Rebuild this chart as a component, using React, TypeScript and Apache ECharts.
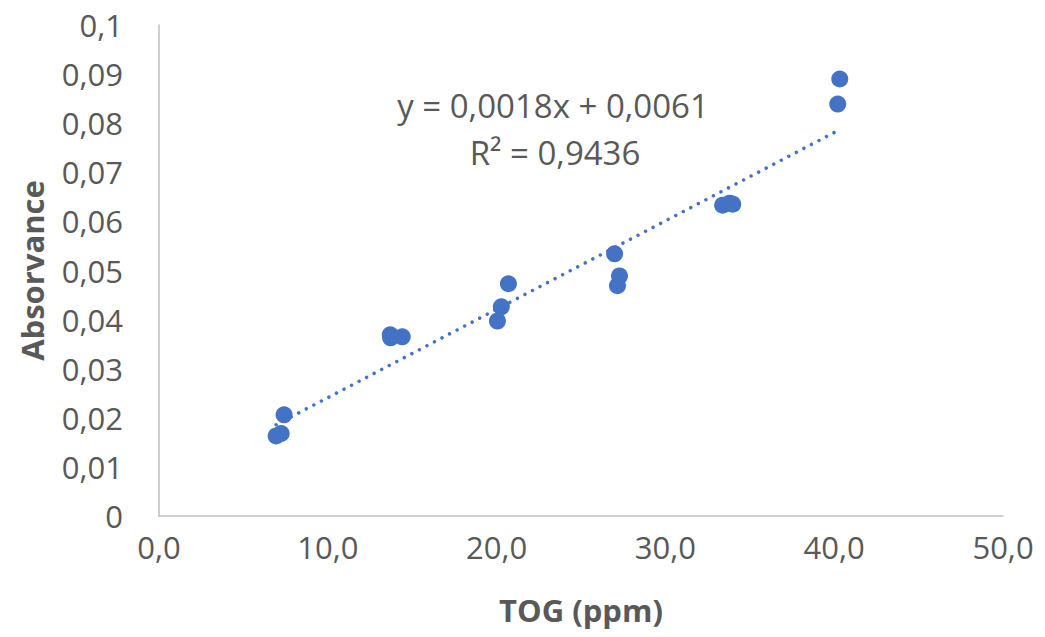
import React, { useEffect, useRef } from "react";
import * as echarts from "echarts";

const tog: number[] = [6.94, 7.24, 7.41, 13.7, 13.72, 14.41, 20.7, 20.28, 20.05, 26.99, 27.28, 27.16, 33.39, 33.81, 33.99, 40.33, 40.21];
const absorvance: number[] = [0.0163, 0.0168, 0.0206, 0.0369, 0.0363, 0.0365, 0.0473, 0.0426, 0.0397, 0.0534, 0.0489, 0.0469, 0.0633, 0.0637, 0.0635, 0.089, 0.0839];
const trendSlope = 0.0018;
const trendIntercept = 0.0061;
const equationLines: string[] = ["y = 0,0018x + 0,0061", "R² = 0,9436"];

const FONT = "'Open Sans', sans-serif";
const TEXT = "#595959";
const FS = 31;

export default function App() {
  const ref = useRef<HTMLDivElement>(null);
  useEffect(() => {
    if (!ref.current) return;
    const chart = echarts.init(ref.current, undefined, { renderer: "svg" });
    const xMin = Math.min(...tog);
    const xMax = Math.max(...tog);
    const trend = [
      [xMin, trendSlope * xMin + trendIntercept],
      [xMax, trendSlope * xMax + trendIntercept],
    ];
    chart.setOption({
      animation: false,
      grid: { left: 159, top: 25, right: 42, bottom: 121 },
      xAxis: {
        type: "value",
        min: 0,
        max: 50,
        interval: 10,
        name: "TOG (ppm)",
        nameLocation: "middle",
        nameGap: 78,
        nameTextStyle: { fontFamily: FONT, fontWeight: "bold", fontSize: FS, color: TEXT },
        axisLine: { show: true, lineStyle: { color: "#bfbfbf", width: 1.5 } },
        axisTick: { show: false },
        splitLine: { show: false },
        axisLabel: {
          fontFamily: FONT,
          fontSize: FS,
          color: TEXT,
          margin: 15,
          formatter: (v: number) => v.toFixed(1).replace(".", ","),
        },
      },
      yAxis: {
        type: "value",
        min: 0,
        max: 0.1,
        interval: 0.01,
        name: "Absorvance",
        nameLocation: "middle",
        nameGap: 112,
        nameTextStyle: { fontFamily: FONT, fontWeight: "bold", fontSize: FS, color: TEXT },
        axisLine: { show: true, lineStyle: { color: "#bfbfbf", width: 1.5 } },
        axisTick: { show: false },
        splitLine: { show: false },
        axisLabel: {
          fontFamily: FONT,
          fontSize: FS,
          color: TEXT,
          margin: 36,
          formatter: (v: number) => String(parseFloat(v.toFixed(3))).replace(".", ","),
        },
      },
      series: [
        {
          type: "line",
          data: trend,
          symbol: "none",
          lineStyle: { color: "#4472C4", width: 3.5, type: [0.01, 8.5], cap: "round" },
          z: 1,
        },
        {
          type: "scatter",
          data: tog.map((x, i) => [x, absorvance[i]]),
          symbolSize: 17,
          itemStyle: { color: "#4472C4", opacity: 1 },
          z: 2,
        },
      ],
      graphic: [
        {
          type: "text",
          x: 553,
          y: 105,
          style: { text: equationLines[0], fontFamily: FONT, fontSize: FS + 2, fill: TEXT, align: "center", verticalAlign: "middle" },
        },
        {
          type: "text",
          x: 555,
          y: 152,
          style: { text: equationLines[1], fontFamily: FONT, fontSize: FS + 2, fill: TEXT, align: "center", verticalAlign: "middle" },
        },
      ],
    });
    return () => chart.dispose();
  }, []);
  return <div ref={ref} style={{ position: "fixed", left: 0, top: 0, width: 1045, height: 637, background: "#fff" }} />;
}
